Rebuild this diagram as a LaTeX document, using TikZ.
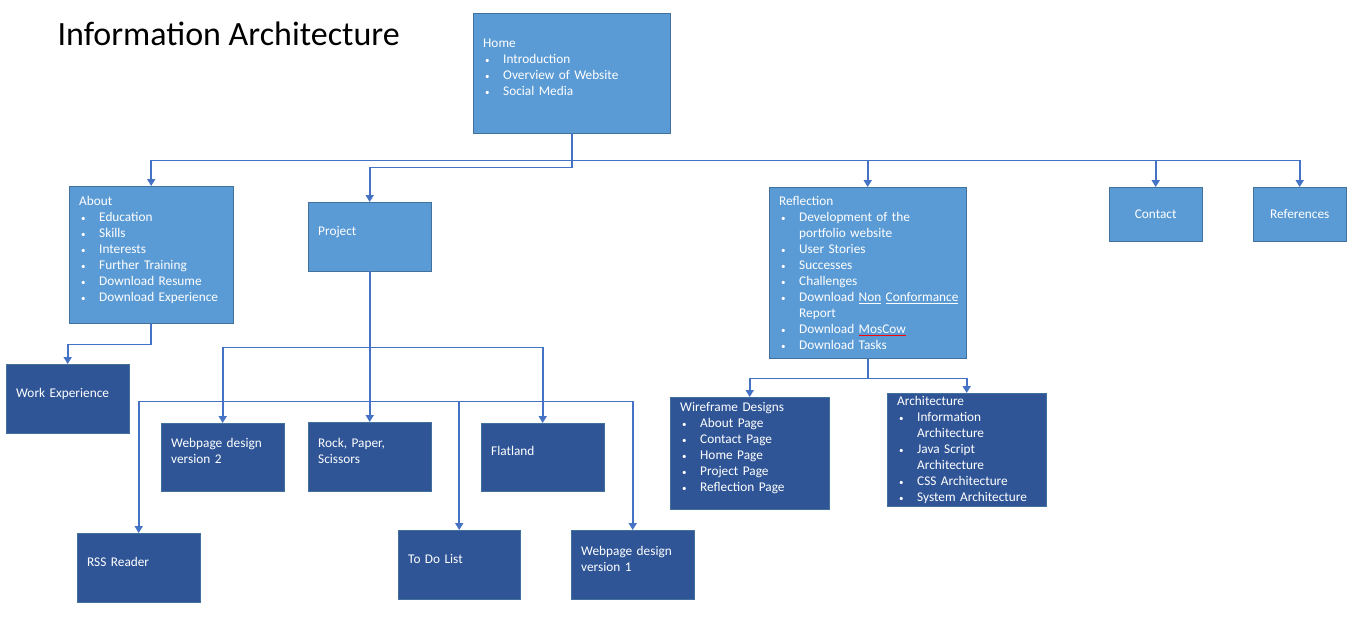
\documentclass[tikz,border=0pt]{standalone}
\usepackage{fontspec}
\setmainfont{Carlito}
\usetikzlibrary{arrows.meta}

\definecolor{lightbox}{HTML}{5B9BD5}
\definecolor{darkbox}{HTML}{2F5597}
\definecolor{boxline}{HTML}{41719C}
\definecolor{wire}{HTML}{4472C4}

\frenchspacing
\newsavebox{\squigbox}
\newcommand{\itm}{\makebox[20pt][l]{\hspace{2pt}{\fontsize{9}{9}\selectfont\textbullet}}}
\newcommand{\cont}{\hspace*{20pt}}
\newcommand{\pad}{\\[-4pt]\mbox{}}
\newcommand{\squig}[1]{\sbox{\squigbox}{#1}\rlap{\textcolor{red}{\rule[-2.5pt]{\wd\squigbox}{0.7pt}}}#1}

\tikzset{
    box/.style 2 args={draw=boxline, fill=lightbox, text=white, anchor=north west, align=left, inner xsep=10pt, inner ysep=0pt, text width=#1, minimum height=#2, font=\fontsize{13.3}{16}\selectfont},
    darkbox/.style 2 args={box={#1}{#2}, fill=darkbox},
    link/.style={draw=wire, line width=1.7pt, -{Triangle[width=8pt,length=7pt]}},
}

\begin{document}
\begin{tikzpicture}[x=1pt, y=-1pt]
    \useasboundingbox (0,0) rectangle (1360,625);

    \node[anchor=base west, font=\fontsize{34}{40}\selectfont] (title) at (54,45) {Information Architecture};

    \node[box={177pt}{120pt}] (home) at (473,13) {Home\\\itm Introduction\\\itm Overview of Website\\\itm Social Media\pad};

    \node[box={144pt}{137pt}] (about) at (69,186) {About\\\itm Education\\\itm Skills\\\itm Interests\\\itm Further Training\\\itm Download Resume\\\itm Download Experience\pad};
    \node[box={103pt}{69pt}] (project) at (308,202) {Project\pad};
    \node[box={177pt}{171pt}] (reflection) at (769,187) {Reflection\\\itm Development of the\\\cont portfolio website\\\itm User Stories\\\itm Successes\\\itm Challenges\\\itm \mbox{Download \underline{Non} \underline{Conformance}}\\\cont Report\\\itm Download \squig{MosCow}\\\itm Download Tasks};
    \node[box={73pt}{54pt}, align=center] (contact) at (1109,187) {Contact};
    \node[box={73pt}{54pt}, align=center] (references) at (1253,187) {References};

    \node[darkbox={103pt}{69pt}] (work) at (6,364) {Work Experience\pad};

    \node[darkbox={103pt}{68pt}] (web2) at (161,423) {Webpage design\\version 2\pad};
    \node[darkbox={103pt}{69pt}] (rps) at (308,422) {Rock, Paper,\\Scissors\pad};
    \node[darkbox={103pt}{68pt}] (flatland) at (481,423) {Flatland\pad};
    \node[darkbox={103pt}{69pt}] (rss) at (77,533) {RSS Reader\pad};
    \node[darkbox={102pt}{69pt}] (todo) at (398,530) {To Do List\pad};
    \node[darkbox={103pt}{69pt}] (web1) at (571,530) {Webpage design\\version 1\pad};

    \node[darkbox={139pt}{112pt}] (wireframe) at (670,397) {Wireframe Designs\\\itm About Page\\\itm Contact Page\\\itm Home Page\\\itm Project Page\\\itm Reflection Page\pad};
    \node[darkbox={139pt}{113pt}] (arch) at (887,393) {Architecture\\\itm Information\\\cont Architecture\\\itm Java Script\\\cont Architecture\\\itm CSS Architecture\\\itm System Architecture};

    \draw[link] (home.south) -- ++(0,27) -| (about.north);
    \draw[link] (home.south) -- ++(0,34) -| (project.north);
    \draw[link] (home.south) -- ++(0,27) -| (reflection.north);
    \draw[link] (home.south) -- ++(0,27) -| (contact.north);
    \draw[link] (home.south) -- ++(0,27) -| (references.north);

    \draw[link] (about.south) -- ++(0,21) -| (work.north);

    \draw[link] (project.south) -- ++(0,76) -| (web2.north);
    \draw[link] (project.south) -- (rps.north);
    \draw[link] (project.south) -- ++(0,76) -| (flatland.north);
    \draw[link] (project.south) -- ++(0,130) -| (rss.north);
    \draw[link] (project.south) -- ++(0,130) -| (todo.north);
    \draw[link] (project.south) -- ++(0,130) -| (web1.north);

    \draw[link] (reflection.south) -- ++(0,20) -| (wireframe.north);
    \draw[link] (reflection.south) -- ++(0,20) -| (arch.north);

\end{tikzpicture}
\end{document}
